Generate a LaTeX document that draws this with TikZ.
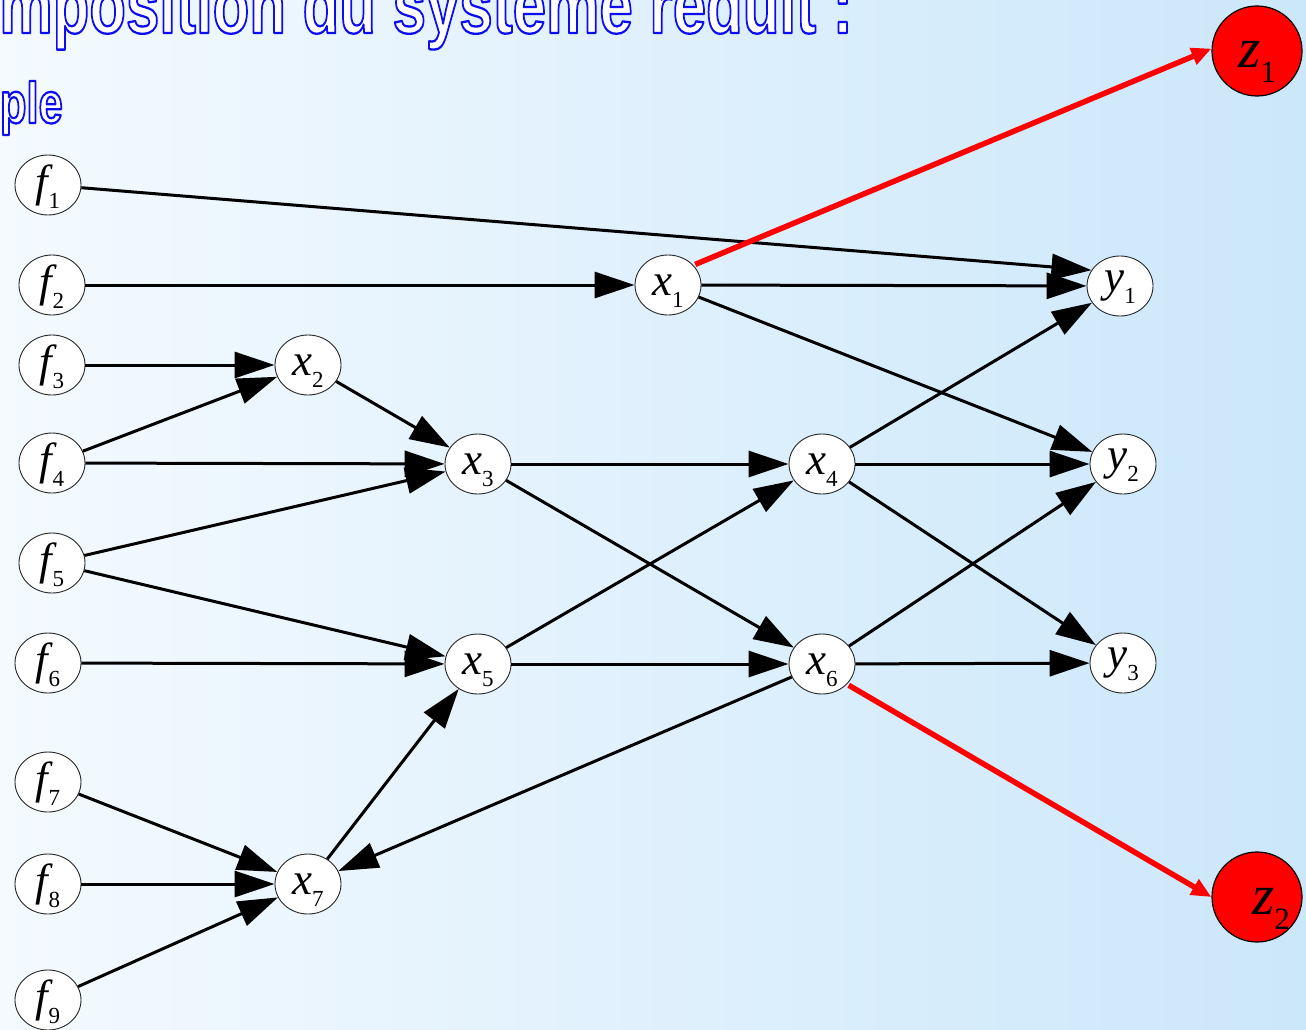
\documentclass[tikz,border=0pt]{standalone}
\usepackage{fontspec}
\setmainfont{Liberation Serif}
\newfontfamily\headfont{Liberation Sans}
\usetikzlibrary{shapes.geometric,arrows.meta}

\definecolor{bgleft}{RGB}{244,250,255}
\definecolor{bgright}{RGB}{203,231,250}
\definecolor{zred}{RGB}{255,0,0}

% variable label: italic letter with an upright index
\newcommand\nlab[2]{\fontsize{45}{45}\selectfont\itshape #1\upshape\raisebox{-12pt}[0pt][0pt]{\fontsize{23}{23}\selectfont #2}}
% output label, larger
\newcommand\zlab[2]{\fontsize{57}{57}\selectfont\itshape #1\upshape\raisebox{-15pt}[0pt][0pt]{\fontsize{31}{31}\selectfont #2}}
% outlined heading text: white fill, blue stroke (text render mode 2)
\newcommand\headtxt[2]{{\headfont\bfseries\fontsize{#1}{#1}\selectfont
  \scalebox{0.75}[1]{\color{white}\special{pdf:literal direct 0.05 0.05 0.95 RG 2.3 w 1 j 2 Tr}#2\special{pdf:literal direct 0 Tr}}}}

\begin{document}
\begin{tikzpicture}[x=1pt,y=-1pt,
  vnode/.style={ellipse,draw=black!85,line width=0.9pt,fill=white,
                minimum width=66pt,minimum height=60pt,inner sep=0pt},
  znode/.style={circle,draw=black,line width=1.2pt,fill=zred,
                minimum size=90pt,inner sep=0pt},
  flow/.style={line width=3pt,-{Triangle[length=40pt,width=26pt]}},
  redflow/.style={draw=zred,line width=5.5pt,-{Triangle[length=20pt,width=17pt]},
                  shorten <=2pt}]

\useasboundingbox (0,0) rectangle (1306,1030);
\shade[left color=bgleft,right color=bgright] (0,0) rectangle (1306,1030);

% heading
\begin{scope}
  \clip (0,0) rectangle (1306,1030);
  \node[anchor=base east,inner sep=0pt] (title) at (853,33)
    {\headtxt{80}{Décomposition du système réduit :}};
  \node[anchor=base east,inner sep=0pt] (subtitle) at (63,123)
    {\headtxt{58}{Exemple}};
\end{scope}

% inputs
\node[vnode] (f1) at (48,185)  {\nlab{f}{1}};
\node[vnode] (f2) at (52,285)  {\nlab{f}{2}};
\node[vnode] (f3) at (52,365)  {\nlab{f}{3}};
\node[vnode] (f4) at (52,463)  {\nlab{f}{4}};
\node[vnode] (f5) at (52,563)  {\nlab{f}{5}};
\node[vnode] (f6) at (48,663)  {\nlab{f}{6}};
\node[vnode] (f7) at (48,782)  {\nlab{f}{7}};
\node[vnode] (f8) at (48,884)  {\nlab{f}{8}};
\node[vnode] (f9) at (48,1000) {\nlab{f}{9}};

% internal variables
\node[vnode] (x1) at (668,285) {\nlab{x}{1}};
\node[vnode] (x2) at (308,365) {\nlab{x}{2}};
\node[vnode] (x3) at (478,464) {\nlab{x}{3}};
\node[vnode] (x4) at (822,464) {\nlab{x}{4}};
\node[vnode] (x5) at (478,664) {\nlab{x}{5}};
\node[vnode] (x6) at (822,664) {\nlab{x}{6}};
\node[vnode] (x7) at (308,884) {\nlab{x}{7}};

% outputs
\node[vnode] (y1) at (1120,286) {\nlab{y}{1}};
\node[vnode] (y2) at (1123,464) {\nlab{y}{2}};
\node[vnode] (y3) at (1123,663) {\nlab{y}{3}};

% reduced outputs
\node[znode] (z1) at (1257,51)  {};
\node[znode] (z2) at (1257,897) {};
\node[inner sep=0pt] (z1l) at (1257,54) {\zlab{z}{1}};
\node[inner sep=0pt] (z2l) at (1271,901) {\zlab{z}{2}};

% connections
\draw[flow] (f1) -- (y1.151);
\draw[flow] (f2) -- (x1);
\draw[flow] (x1) -- (y1);
\draw[flow] (x1) -- (y2);
\draw[flow] (f3) -- (x2);
\draw[flow] (f4) -- (x2);
\draw[flow] (x2) -- (x3);
\draw[flow] (f4) -- (x3);
\draw[flow] (f5) -- (x3);
\draw[flow] (f5) -- (x5);
\draw[flow] (f6) -- (x5);
\draw[flow] (x3) -- (x4);
\draw[flow] (x3) -- (x6);
\draw[flow] (x5) -- (x4);
\draw[flow] (x5) -- (x6);
\draw[flow] (x4) -- (y1);
\draw[flow] (x4) -- (y2);
\draw[flow] (x4) -- (y3);
\draw[flow] (x6) -- (y2);
\draw[flow] (x6) -- (y3);
\draw[flow] (x6) -- (x7);
\draw[flow] (x7) -- (x5);
\draw[flow] (f7) -- (x7);
\draw[flow] (f8) -- (x7);
\draw[flow] (f9) -- (x7);

\draw[redflow] (x1.38) -- (z1.177);
\draw[redflow] (x6.-39) -- (z2.180);
\end{tikzpicture}
\end{document}
